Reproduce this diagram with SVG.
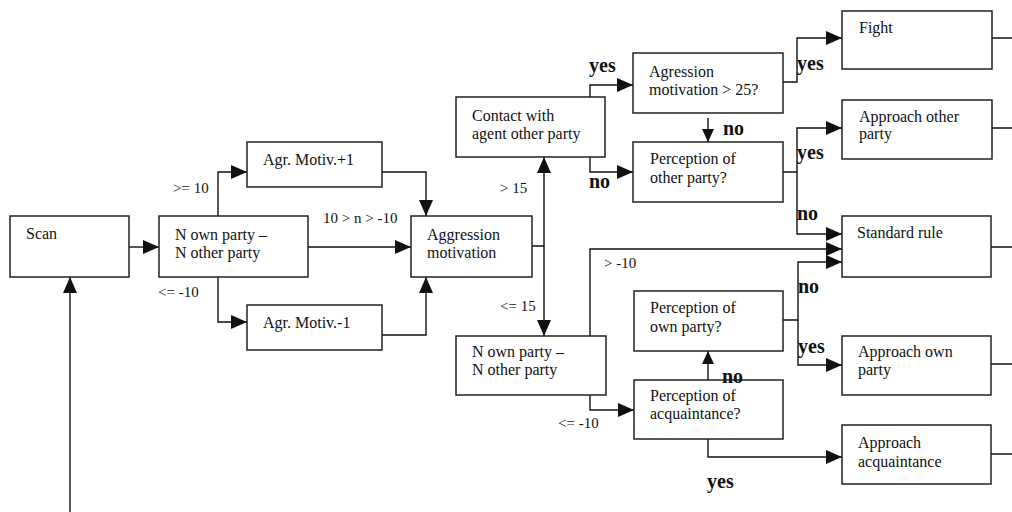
<svg xmlns="http://www.w3.org/2000/svg" width="1012" height="512" viewBox="0 0 1012 512">
<style>
.box{fill:#fff;stroke:#222;stroke-width:1.5}
.t{font-family:"Liberation Serif","Times New Roman",serif;font-size:16px;fill:#111}
.l{font-family:"Liberation Serif","Times New Roman",serif;font-size:15px;fill:#111}
.b{font-family:"Liberation Serif","Times New Roman",serif;font-size:20px;font-weight:bold;fill:#111}
.c{fill:none;stroke:#111;stroke-width:1.4}
</style>
<defs>
<marker id="a" viewBox="0 0 16 14" refX="16" refY="7" markerWidth="16" markerHeight="14" markerUnits="userSpaceOnUse" orient="auto"><path d="M0,0 L16,7 L0,14 z" fill="#111"/></marker>
<marker id="s" viewBox="0 0 13 12" refX="13" refY="6" markerWidth="13" markerHeight="12" markerUnits="userSpaceOnUse" orient="auto"><path d="M0,0 L13,6 L0,12 z" fill="#111"/></marker>
</defs>
<rect width="1012" height="512" fill="#fff"/>
<g id="connectors">
<path class="c" d="M129,247 H159" marker-end="url(#a)"/>
<path class="c" d="M218,216 V172 H247" marker-end="url(#a)"/>
<path class="c" d="M218,277 V322 H247" marker-end="url(#a)"/>
<path class="c" d="M308,247 H411" marker-end="url(#a)"/>
<path class="c" d="M382,172 H426 V216" marker-end="url(#a)"/>
<path class="c" d="M382,335 H426 V277" marker-end="url(#a)"/>
<path class="c" d="M532,246 H544 V157" marker-end="url(#a)"/>
<path class="c" d="M544,246 V336" marker-end="url(#a)"/>
<path class="c" d="M590,97 V85 H633" marker-end="url(#a)"/>
<path class="c" d="M590,157 V172 H633" marker-end="url(#a)"/>
<path class="c" d="M708,118 V142" marker-end="url(#s)"/>
<path class="c" d="M783,82 H797 V38 H842" marker-end="url(#a)"/>
<path class="c" d="M783,172 H797 V128 H842" marker-end="url(#a)"/>
<path class="c" d="M797,172 V234 H842" marker-end="url(#a)"/>
<path class="c" d="M590,336 V249 H842" marker-end="url(#a)"/>
<path class="c" d="M590,395 V410 H634" marker-end="url(#a)"/>
<path class="c" d="M783,320 H798 V262 H842" marker-end="url(#a)"/>
<path class="c" d="M798,320 V365 H842" marker-end="url(#a)"/>
<path class="c" d="M708,380 V351" marker-end="url(#s)"/>
<path class="c" d="M708,439 V457 H842" marker-end="url(#a)"/>
<path class="c" d="M70,512 V277" marker-end="url(#a)"/>
<path class="c" d="M992,38 H1012 M992,128 H1012 M991,247 H1012 M991,364 H1012 M991,454 H1012"/>
</g>
<g id="scan"><rect class="box" x="10" y="216" width="119" height="61"/><text class="t" x="26" y="239">Scan</text></g>
<g id="diff1"><rect class="box" x="159" y="216" width="149" height="61"/><text class="t" x="175" y="240">N own party –</text><text class="t" x="175" y="258">N other party</text></g>
<g id="agrplus"><rect class="box" x="247" y="142" width="135" height="45"/><text class="t" x="263" y="165">Agr. Motiv.+1</text></g>
<g id="agrminus"><rect class="box" x="247" y="305" width="135" height="45"/><text class="t" x="263" y="328">Agr. Motiv.-1</text></g>
<g id="aggression"><rect class="box" x="411" y="216" width="121" height="61"/><text class="t" x="427" y="240">Aggression</text><text class="t" x="427" y="258">motivation</text></g>
<g id="contact"><rect class="box" x="456" y="97" width="149" height="60"/><text class="t" x="472" y="121">Contact with</text><text class="t" x="472" y="139">agent other party</text></g>
<g id="agr25"><rect class="box" x="633" y="53" width="150" height="60"/><text class="t" x="649" y="77">Agression</text><text class="t" x="649" y="95">motivation &gt; 25?</text></g>
<g id="percother"><rect class="box" x="633" y="142" width="150" height="60"/><text class="t" x="650" y="164">Perception of</text><text class="t" x="650" y="183">other party?</text></g>
<g id="diff2"><rect class="box" x="456" y="336" width="150" height="59"/><text class="t" x="472" y="357">N own party –</text><text class="t" x="472" y="375">N other party</text></g>
<g id="percown"><rect class="box" x="634" y="291" width="149" height="60"/><text class="t" x="650" y="313">Perception of</text><text class="t" x="650" y="332">own party?</text></g>
<g id="percacq"><rect class="box" x="634" y="380" width="149" height="59"/><text class="t" x="650" y="401">Perception of</text><text class="t" x="650" y="419">acquaintance?</text></g>
<g id="fight"><rect class="box" x="842" y="11" width="150" height="58"/><text class="t" x="859" y="33">Fight</text></g>
<g id="approachother"><rect class="box" x="842" y="100" width="150" height="59"/><text class="t" x="859" y="122">Approach other</text><text class="t" x="859" y="139">party</text></g>
<g id="standard"><rect class="box" x="842" y="216" width="149" height="61"/><text class="t" x="857" y="238">Standard rule</text></g>
<g id="approachown"><rect class="box" x="842" y="336" width="149" height="59"/><text class="t" x="858" y="357">Approach own</text><text class="t" x="858" y="375">party</text></g>
<g id="approachacq"><rect class="box" x="842" y="425" width="149" height="59"/><text class="t" x="858" y="448">Approach</text><text class="t" x="858" y="467">acquaintance</text></g>
<g id="connector-labels">
<text class="l" x="173" y="193">&gt;= 10</text>
<text class="l" x="158" y="297">&lt;= -10</text>
<text class="l" x="323" y="223">10 &gt; n &gt; -10</text>
<text class="l" x="500" y="193">&gt; 15</text>
<text class="l" x="500" y="311">&lt;= 15</text>
<text class="l" x="604" y="268">&gt; -10</text>
<text class="l" x="558" y="428">&lt;= -10</text>
<text class="b" x="589" y="72">yes</text>
<text class="b" x="589" y="188">no</text>
<text class="b" x="723" y="135">no</text>
<text class="b" x="797" y="70">yes</text>
<text class="b" x="797" y="159">yes</text>
<text class="b" x="797" y="220">no</text>
<text class="b" x="798" y="293">no</text>
<text class="b" x="798" y="353">yes</text>
<text class="b" x="722" y="383">no</text>
<text class="b" x="707" y="488">yes</text>
</g>
</svg>
